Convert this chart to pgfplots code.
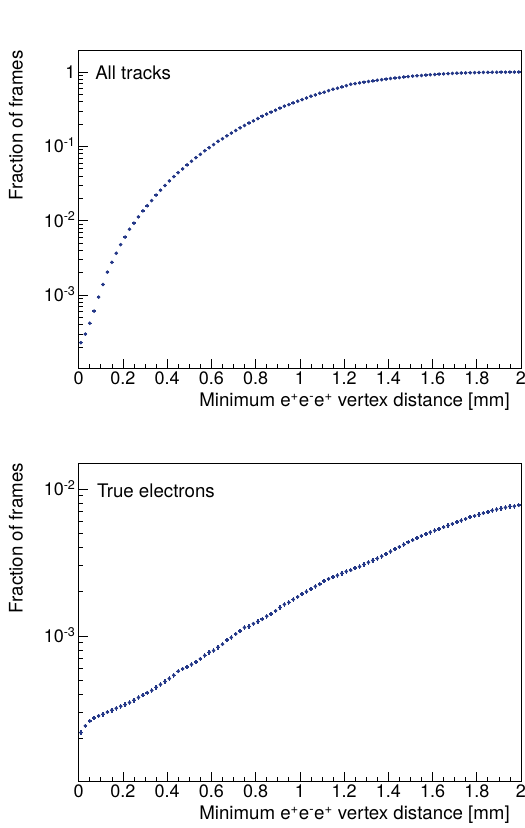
\documentclass[border=0pt]{standalone}
\usepackage{fontspec}
\setmainfont{TeX Gyre Heros}
\usepackage{pgfplots}
\pgfplotsset{compat=1.18}
\definecolor{rootblue}{RGB}{36,56,136}
\newcommand{\lab}{\fontsize{18}{20}\selectfont}
\newcommand{\ttl}{\fontsize{18.7}{21}\selectfont}
\pgfplotsset{
  panel/.style={
    scale only axis, width=442.3pt, height=318pt,
    anchor=south west,
    xmin=0, xmax=2,
    axis line style={line width=0.8pt, black},
    tick align=inside, xtick pos=bottom, ytick pos=left,
    major tick length=9pt, minor tick length=4.5pt,
    every tick/.style={black, line width=0.7pt},
    xtick={0,0.2,0.4,0.6,0.8,1,1.2,1.4,1.6,1.8,2},
    xticklabels={0,0.2,0.4,0.6,0.8,1,1.2,1.4,1.6,1.8,2},
    minor xtick={0.05,0.1,0.15,0.25,0.3,0.35,0.45,0.5,0.55,0.65,0.7,0.75,0.85,0.9,0.95,1.05,1.1,1.15,1.25,1.3,1.35,1.45,1.5,1.55,1.65,1.7,1.75,1.85,1.9,1.95},
    xticklabel style={font=\lab, inner sep=0pt, anchor=north, yshift=-3.4pt},
    yticklabel style={font=\lab, inner sep=0pt, anchor=base east, xshift=-3pt, yshift=-6.4pt},
    xlabel={Minimum e\textsuperscript{+}e\textsuperscript{-}e\textsuperscript{+} vertex distance [mm]},
    xlabel style={font=\ttl, inner sep=0pt, at={(axis description cs:0.975,-0.1206)}, anchor=base east},
    ylabel={Fraction of frames},
    ylabel style={font=\ttl, inner sep=0pt, at={(axis description cs:-0.1418,1)}, anchor=east},
  },
  pts/.style={only marks, mark=*, mark size=1.6pt, color=rootblue, mark options={fill=rootblue, draw=rootblue},
    error bars/y dir=both, error bars/x dir=both,
    error bars/x fixed=0.008,
    error bars/error bar style={rootblue, line width=1.4pt},
    error bars/error mark=none},
}
\begin{document}
\begin{tikzpicture}
\path[use as bounding box] (0,0) rectangle (525pt,828pt);
% ---------------- top panel
\begin{axis}[panel, ymode=log, at={(78.7pt,459.7pt)},
  ymin=1.04e-4, ymax=1.96,
  ytick={1e-3,1e-2,1e-1,1},
  yticklabels={10\textsuperscript{-3},10\textsuperscript{-2},10\textsuperscript{-1},1},
  minor ytick={2e-4,3e-4,4e-4,5e-4,6e-4,7e-4,8e-4,9e-4,2e-3,3e-3,4e-3,5e-3,6e-3,7e-3,8e-3,9e-3,2e-2,3e-2,4e-2,5e-2,6e-2,7e-2,8e-2,9e-2,2e-1,3e-1,4e-1,5e-1,6e-1,7e-1,8e-1,9e-1},
]
\addplot[pts, error bars/y fixed relative=0.03] table {
x y
0.01 2.3e-4
0.03 3.0e-4
0.05 4.2e-4
0.07 6.1e-4
0.09 9.4e-4
0.11 1.39e-3
0.13 2.04e-3
0.15 2.77e-3
0.17 3.66e-3
0.19 4.78e-3
0.21 6.05e-3
0.23 7.7e-3
0.25 9.3e-3
0.27 1.13e-2
0.29 1.36e-2
0.31 1.59e-2
0.33 1.87e-2
0.35 2.21e-2
0.37 2.58e-2
0.39 2.98e-2
0.41 3.44e-2
0.43 3.93e-2
0.45 4.44e-2
0.47 0.0498
0.49 0.0564
0.51 0.0630
0.53 0.0706
0.55 0.0782
0.57 0.0876
0.59 0.0961
0.61 0.106
0.63 0.117
0.65 0.127
0.67 0.139
0.69 0.151
0.71 0.164
0.73 0.178
0.75 0.191
0.77 0.206
0.79 0.221
0.81 0.237
0.83 0.255
0.85 0.272
0.87 0.289
0.89 0.307
0.91 0.327
0.93 0.348
0.95 0.365
0.97 0.385
0.99 0.405
1.01 0.426
1.03 0.449
1.05 0.473
1.07 0.492
1.09 0.519
1.11 0.535
1.13 0.562
1.15 0.586
1.17 0.605
1.19 0.630
1.21 0.656
1.23 0.685
1.25 0.700
1.27 0.716
1.29 0.731
1.31 0.746
1.33 0.760
1.35 0.775
1.37 0.789
1.39 0.803
1.41 0.817
1.43 0.830
1.45 0.843
1.47 0.856
1.49 0.868
1.51 0.879
1.53 0.890
1.55 0.900
1.57 0.910
1.59 0.920
1.61 0.929
1.63 0.937
1.65 0.945
1.67 0.952
1.69 0.958
1.71 0.964
1.73 0.969
1.75 0.974
1.77 0.978
1.79 0.982
1.81 0.985
1.83 0.988
1.85 0.990
1.87 0.992
1.89 0.994
1.91 0.995
1.93 0.996
1.95 0.997
1.97 0.998
1.99 0.999
};
\node[anchor=west, inner sep=0pt, font=\ttl] at (axis description cs:0.037,0.928) {All tracks};
\end{axis}
% ---------------- bottom panel
\begin{axis}[panel, ymode=log, at={(78.7pt,47pt)},
  ymin=1.03e-4, ymax=1.5e-2,
  ytick={1e-3,1e-2},
  yticklabels={10\textsuperscript{-3},10\textsuperscript{-2}},
  minor ytick={2e-4,3e-4,4e-4,5e-4,6e-4,7e-4,8e-4,9e-4,2e-3,3e-3,4e-3,5e-3,6e-3,7e-3,8e-3,9e-3},
]
\addplot[pts, error bars/y fixed relative=0.035] table {
x y
0.01 2.20e-4
0.03 2.44e-4
0.05 2.64e-4
0.07 2.77e-4
0.09 2.86e-4
0.11 2.93e-4
0.13 3.03e-4
0.15 3.12e-4
0.17 3.22e-4
0.19 3.32e-4
0.21 3.41e-4
0.23 3.52e-4
0.25 3.65e-4
0.27 3.81e-4
0.29 3.95e-4
0.31 4.10e-4
0.33 4.25e-4
0.35 4.46e-4
0.37 4.67e-4
0.39 4.89e-4
0.41 5.13e-4
0.43 5.40e-4
0.45 5.75e-4
0.47 5.97e-4
0.49 6.16e-4
0.51 6.39e-4
0.53 6.65e-4
0.55 6.98e-4
0.57 7.36e-4
0.59 7.74e-4
0.61 7.95e-4
0.63 8.37e-4
0.65 8.78e-4
0.67 9.35e-4
0.69 9.75e-4
0.71 1.03e-3
0.73 1.08e-3
0.75 1.14e-3
0.77 1.16e-3
0.79 1.21e-3
0.81 1.25e-3
0.83 1.30e-3
0.85 1.36e-3
0.87 1.41e-3
0.89 1.48e-3
0.91 1.56e-3
0.93 1.64e-3
0.95 1.69e-3
0.97 1.77e-3
0.99 1.84e-3
1.01 1.93e-3
1.03 2.00e-3
1.05 2.09e-3
1.07 2.17e-3
1.09 2.25e-3
1.11 2.36e-3
1.13 2.44e-3
1.15 2.51e-3
1.17 2.58e-3
1.19 2.66e-3
1.21 2.74e-3
1.23 2.80e-3
1.25 2.89e-3
1.27 2.96e-3
1.29 3.06e-3
1.31 3.16e-3
1.33 3.26e-3
1.35 3.36e-3
1.37 3.48e-3
1.39 3.61e-3
1.41 3.75e-3
1.43 3.89e-3
1.45 4.03e-3
1.47 4.18e-3
1.49 4.34e-3
1.51 4.48e-3
1.53 4.64e-3
1.55 4.79e-3
1.57 4.92e-3
1.59 5.07e-3
1.61 5.21e-3
1.63 5.35e-3
1.65 5.49e-3
1.67 5.64e-3
1.69 5.78e-3
1.71 5.94e-3
1.73 6.10e-3
1.75 6.25e-3
1.77 6.42e-3
1.79 6.55e-3
1.81 6.70e-3
1.83 6.84e-3
1.85 6.98e-3
1.87 7.14e-3
1.89 7.25e-3
1.91 7.36e-3
1.93 7.48e-3
1.95 7.60e-3
1.97 7.62e-3
1.99 7.75e-3
};
\node[anchor=west, inner sep=0pt, font=\ttl] at (axis description cs:0.041,0.914) {True electrons};
\end{axis}
\end{tikzpicture}
\end{document}
